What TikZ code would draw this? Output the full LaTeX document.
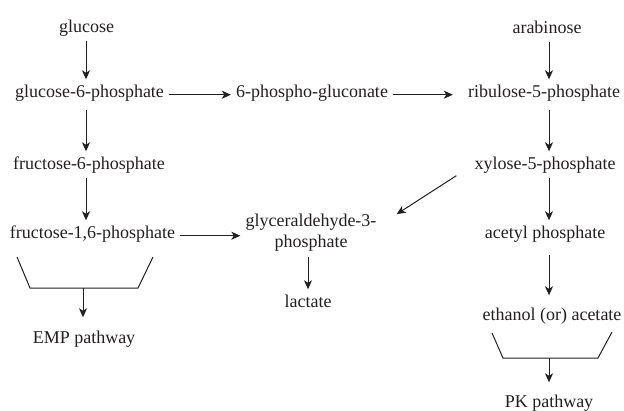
\documentclass[tikz,border=0pt]{standalone}
\usepackage{fontspec}
\setmainfont{Liberation Serif}
\usetikzlibrary{arrows.meta,calc}
\definecolor{ink}{HTML}{231F20}
\tikzset{
  lbl/.style={font=\fontsize{18}{21}\selectfont, text=ink, inner xsep=5pt, inner ysep=5pt},
  one/.style={lbl, anchor=base, text height=12.5pt, text depth=4pt},
  arr/.style={draw=ink, line width=1pt, -{Stealth[length=9pt,width=8pt,inset=2.5pt]}},
  ln/.style={draw=ink, line width=1pt},
}
\begin{document}
\begin{tikzpicture}[x=1pt,y=-1pt]
\useasboundingbox (0,0) rectangle (624,410);
% columns
\coordinate (lc) at (86,0);
\coordinate (rc) at (549,0);
% nodes
\node[one] (glc)  at (86.5,32)  {glucose};
\node[one] (g6p)  at (89.5,97)  {glucose-6-phosphate};
\node[one] (pg)   at (312,97)   {6-phospho-gluconate};
\node[one] (rib)  at (544,97)   {ribulose-5-phosphate};
\node[one] (ara)  at (547,33)   {arabinose};
\node[one] (f6p)  at (89,169)   {fructose-6-phosphate};
\node[one] (xyl)  at (545,169)  {xylose-5-phosphate};
\node[one] (f16p) at (92.5,238) {fructose-1,6-phosphate};
\node[one] (acet) at (545,238)  {acetyl phosphate};
\node[lbl, align=center] (glyc) at (311,233) {glyceraldehyde-3-\\phosphate};
\node[one] (lac)  at (308,307)  {lactate};
\node[one] (eth)  at (552,320)  {ethanol (or) acetate};
\node[one] (emp)  at (84,343)   {EMP pathway};
\node[one] (pk)   at (549,407)  {PK pathway};
% left column
\draw[arr] (lc |- glc.south) -- (lc |- g6p.north);
\draw[arr, shorten <=4pt] (lc |- g6p.south) -- (lc |- f6p.north);
\draw[arr] (lc |- f6p.south) -- (lc |- f16p.north);
% top row
\draw[arr] (g6p.mid east) -- (pg.mid west);
\draw[arr, shorten >=10pt] (pg.mid east) -- (rib.mid west);
% right column
\draw[arr] (rc |- ara.south) -- (rc |- rib.north);
\draw[arr, shorten <=4pt] (rc |- rib.south) -- (rc |- xyl.north);
\draw[arr] (rc |- xyl.south) -- (rc |- acet.north);
\draw[arr, shorten <=8pt, shorten >=7pt] (rc |- acet.south) -- (rc |- eth.north);
% middle
\draw[arr] (f16p.mid east) -- (f16p.mid east -| glyc.west);
\draw[arr] ($(xyl.mid west)+(-13,9)$) -- ($(glyc.north east)+(15,5)$);
\draw[arr] (glyc.south -| lac) -- (lac.north);
% EMP bracket
\coordinate (e1) at (17,257);
\coordinate (e2) at (30,288);
\coordinate (e3) at (138,288);
\coordinate (e4) at (153,257);
\coordinate (em) at (83,288);
\draw[ln] (e1) -- (e2) -- (e3) -- (e4);
\draw[arr, shorten >=8pt] (em) -- (em |- emp.north);
% PK bracket
\coordinate (p1) at (492,333);
\coordinate (p2) at (503,358);
\coordinate (p3) at (598,358);
\coordinate (p4) at (612,332);
\coordinate (pm) at (549,358);
\draw[ln] (p1) -- (p2) -- (p3) -- (p4);
\draw[arr, shorten >=7pt] (pm) -- (pm |- pk.north);
\end{tikzpicture}
\end{document}
